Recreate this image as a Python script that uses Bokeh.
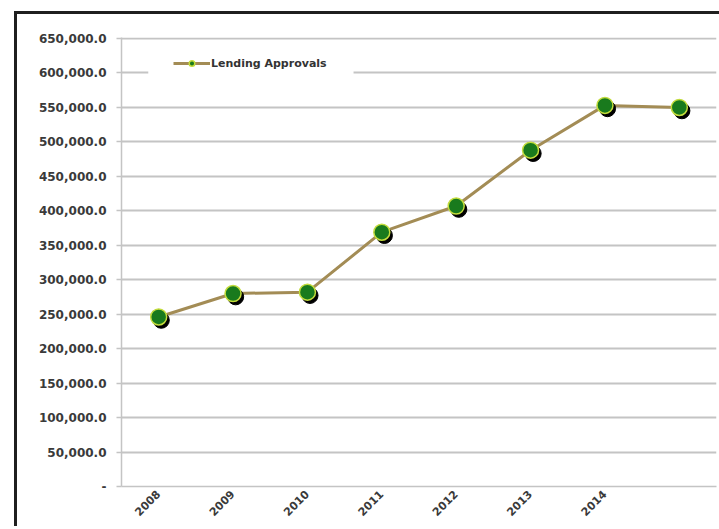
import math

from bokeh.plotting import figure
from bokeh.models import (ColumnDataSource, FixedTicker, Legend, LegendItem,
                          BoxAnnotation, Range1d)
from bokeh.transform import dodge
from bokeh.embed import file_html
from bokeh.resources import INLINE

# Annual lending approvals
years = ["2008", "2009", "2010", "2011", "2012", "2013", "2014", " "]
approvals = [246000, 280000, 282000, 369000, 407000, 488000, 553000, 550000]

y_ticks = [0, 50000, 100000, 150000, 200000, 250000, 300000,
           350000, 400000, 450000, 500000, 550000, 600000, 650000]
y_tick_labels = ["-", "50,000.0", "100,000.0", "150,000.0", "200,000.0",
                 "250,000.0", "300,000.0", "350,000.0", "400,000.0",
                 "450,000.0", "500,000.0", "550,000.0", "600,000.0",
                 "650,000.0"]

src = ColumnDataSource(dict(x=years, y=approvals))

p = figure(x_range=years, y_range=Range1d(0, 651500),
           width=702, height=515,
           output_backend="svg", toolbar_location=None,
           min_border_left=104, min_border_right=3,
           min_border_top=23, min_border_bottom=43)
p.margin = (14, 0, 0, 17)
# dark frame line along the top and left of the chart box
p.styles = {"box-shadow": "-3px -3px 0 0 #1f1f1f, 0 -3px 0 0 #1f1f1f"}
p.outline_line_color = None
p.background_fill_color = "white"
p.border_fill_color = None

grid_color = "#c4c4c4"
label_color = "#3a3a3a"

# y axis
p.yaxis.ticker = FixedTicker(ticks=y_ticks)
p.yaxis.major_label_overrides = dict(zip(y_ticks, y_tick_labels))
p.yaxis.axis_line_color = grid_color
p.yaxis.axis_line_width = 1.5
p.yaxis.major_tick_line_color = grid_color
p.yaxis.major_tick_line_width = 1.5
p.yaxis.major_tick_out = 5
p.yaxis.major_tick_in = 0
p.yaxis.minor_tick_line_color = None
p.yaxis.major_label_standoff = 10
p.yaxis.major_label_text_font = "DejaVu Sans"
p.yaxis.major_label_text_font_style = "bold"
p.yaxis.major_label_text_font_size = "12px"
p.yaxis.major_label_text_color = label_color

# x axis
p.xaxis.axis_line_color = grid_color
p.xaxis.axis_line_width = 1.5
p.xaxis.major_tick_line_color = None
p.xaxis.major_tick_out = 0
p.xaxis.major_label_orientation = math.pi / 4
p.xaxis.major_label_standoff = 6
p.xaxis.major_label_text_font = "DejaVu Sans"
p.xaxis.major_label_text_font_style = "bold"
p.xaxis.major_label_text_font_size = "11px"
p.xaxis.major_label_text_color = label_color

p.xgrid.grid_line_color = None
p.ygrid.ticker = FixedTicker(ticks=y_ticks)
p.ygrid.grid_line_color = grid_color
p.ygrid.grid_line_width = 2

# series
line = p.line("x", "y", source=src, line_color="#a38c55", line_width=3)
p.scatter(x=dodge("x", 0.035, range=p.x_range), y=dodge("y", -4800),
          size=16, fill_color="black", line_color="black", source=src)
dots = p.scatter("x", "y", size=16, fill_color="#197a1d",
                 line_color="#c3dc3c", line_width=1.5, source=src)

# white gap in the gridline behind the legend
p.add_layout(BoxAnnotation(left=0.36, right=3.12, bottom=590000, top=610000,
                           fill_color="white", fill_alpha=1, line_color=None))

legend = Legend(items=[LegendItem(label="Lending Approvals", renderers=[line, dots])],
                location=(52, 416), padding=2, margin=0, spacing=0,
                glyph_width=37, glyph_height=14, label_height=14,
                label_standoff=1, label_text_font="DejaVu Sans",
                label_text_font_size="11px", label_text_font_style="bold",
                label_text_color="#333333",
                border_line_color=None, background_fill_color="white",
                background_fill_alpha=1)
p.add_layout(legend)

open("out.html", "w").write(file_html(p, INLINE))
